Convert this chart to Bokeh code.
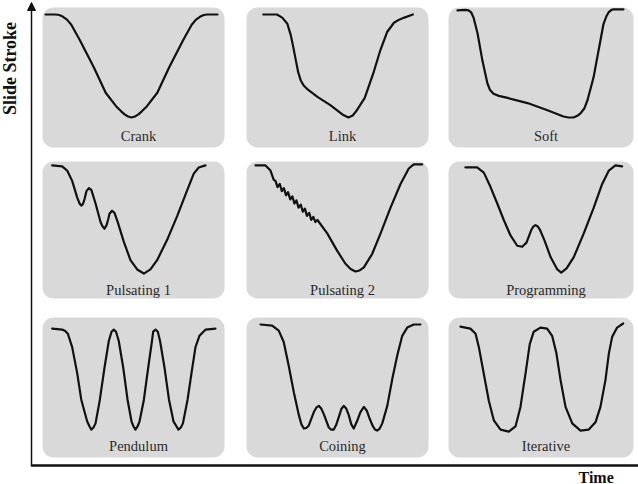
import numpy as np
from bokeh.plotting import figure
from bokeh.models import Range1d, Arrow, NormalHead, Label
from bokeh.embed import file_html
from bokeh.resources import INLINE

# ---- data: normalised time (0-100) and slide stroke (100 = top, 0 = bottom dead centre)
crank_t = [0, 6, 8, 10, 12.5, 15, 20, 28, 35, 41, 44, 46, 48, 50, 52, 54, 56, 59, 65, 72,
           80, 85, 87.5, 90, 92, 94, 100]
crank_s = [100, 100, 99.5, 98, 95, 90, 75, 49, 24, 11, 6, 3, 1, 0, 1, 3, 6, 11, 24, 49,
           75, 90, 95, 98, 99.5, 100, 100]

link_t = [8, 16, 19, 22, 24, 25.5, 27, 28.3, 29.8, 31.5, 34, 39.5, 47, 54, 57.5, 60, 62,
          67, 72, 76, 80, 84, 87, 90, 95]
link_s = [100, 100, 97, 91, 80, 68, 55, 44, 36, 31, 27, 20, 12, 3, 0, 2, 6,
          19, 43, 65, 83, 92, 95, 97, 100]

soft_t = [3.5, 8, 9.9, 11.5, 12.8, 15.1, 18, 20.9, 22.3, 24.4, 27.5, 32.6, 44.2, 55.8, 65.1,
          68, 70.9, 73.5, 75, 77.3, 79.1, 82.6, 85.5, 88.4, 90, 91.3, 93, 94.2, 100]
soft_s = [104, 104.5, 104, 102, 97, 82, 55, 33, 27, 23, 21, 19, 14, 7, 1,
          0, 0, 2, 4, 9, 17, 39, 65, 91, 98, 102, 104.5, 105, 105]

puls1_t = [3.9, 9.7, 12.6, 15.5, 18.4, 19.8, 20.8, 21.8, 22.8, 23.8, 25.3, 26.7, 29.1, 32,
           33.1, 34.3, 35.5, 36.5, 37.2, 38.7, 40.1, 42, 45.5, 49.4, 53.3, 57.2, 61, 64.9,
           70.8, 76.6, 82.4, 86.2, 89.1, 93]
puls1_s = [103, 102, 98, 88, 72, 66, 64, 65.5, 71, 78, 81, 79, 66, 48,
           44, 41.5, 45, 51, 56, 59, 57, 48, 29, 11, 2, -2, 2, 11,
           31, 54, 79, 95, 101, 103]

puls2_t = [3.5, 9.3, 12.2, 14.1, 15.1, 16.3, 17.6, 18.8, 20, 21.2, 22.4, 23.7, 24.9, 26.1,
           27.3, 28.5, 29.8, 31, 32.2, 33.4, 34.7, 35.9, 37.1, 38.3, 39.5, 45.2, 51, 55.8,
           58.8, 61.6, 64, 66.5, 71.3, 76.2, 82, 87.8, 92.6, 95.5, 100.4]
puls2_s = [103, 103, 98, 89, 88, 82, 85, 78, 81, 74, 77, 70, 73, 66,
           69, 62, 65, 58, 61, 54, 57, 50, 53, 48, 50, 37, 20, 7.5,
           2.5, 0, 1, 4, 17, 37, 62, 85, 100, 104, 104]

prog_t = [8.1, 14.9, 18.8, 22.7, 26.6, 30.4, 34.3, 38.2, 41.1, 43.6, 46.3, 47.5, 48.8, 50,
          51.3, 54.1, 57.6, 61.5, 63.8, 66.9, 71.1, 76.9, 82.7, 87.6, 91.5, 95.3, 99.2]
prog_s = [101, 101, 96, 82, 66, 50, 35, 25, 24, 28, 40, 43.5, 45, 44,
          41, 30, 14, 2, -1, 3, 14, 37, 62, 85, 98, 103, 102]

pend_t = [3.9, 9.7, 11.3, 13, 15.5, 18.4, 20.8, 24.2, 25.6, 26.7, 27.9, 29.1, 31.6, 34.3,
          36.8, 38.4, 39.7, 41, 42.6, 45.2, 47.7, 50, 51.2, 52.3, 53.5, 54.7, 57.2, 59.7,
          61.9, 62.6, 64, 65.3, 66.6, 69.2, 71.8, 74.4, 76.2, 77.3, 78.7, 79.9, 82.6, 84.9,
          87.2, 89.5, 93, 98.8]
pend_s = [96, 95, 94, 91, 78, 53, 27, 6, 1, -2, 0, 4, 27, 58,
          84, 93, 95, 93, 84, 58, 27, 6, 1, -2, 1, 6, 27, 58,
          84, 93, 95, 93, 84, 58, 27, 6, 1, -2, 0, 4, 27, 53,
          78, 89, 95, 96]

coin_t = [6.4, 13.2, 17, 19.9, 22.8, 25.8, 28.7, 30.2, 31.6, 33, 34.5, 37.4, 38.9, 40.3,
          41.7, 43.2, 46.1, 47.5, 49, 50.5, 51.9, 53.4, 54.8, 56.2, 57.7, 59.2, 60.6, 62.5,
          64.5, 66.5, 68.3, 70, 71.8, 73, 74.2, 75.7, 77.2, 80.1, 83, 85.9, 88.8, 91.7,
          95.5, 99.4]
coin_s = [100, 99, 94, 83, 60, 34, 12, 3, -1, -0.5, 2, 15, 19.5, 21,
          18.5, 13, 0, -2, -2, 3, 10, 18, 21, 18.5, 12, 3, -1, 6,
          15, 20, 16, 8, 1, -2, -3, -1, 4, 21, 47, 70, 89, 97,
          100, 100]

iter_t = [5.2, 11, 14, 15.9, 18.8, 21.7, 24.6, 28.5, 33.3, 37.2, 40.1, 43, 45.5, 47.8,
          51.7, 55.6, 58.5, 61, 63.4, 66.3, 70.2, 75, 79.8, 83.7, 86.6, 89.5, 91.5, 93.4,
          96.3, 99.8]
iter_s = [98, 96, 91, 78, 52, 26, 7, -2, -4, 1, 20, 52, 81, 93,
          97, 96, 89, 72, 46, 20, 4, -3, -2, 5, 20, 46, 72, 88,
          97, 101]

names = ["Crank", "Link", "Soft", "Pulsating 1", "Pulsating 2", "Programming",
         "Pendulum", "Coining", "Iterative"]
series = [(crank_t, crank_s), (link_t, link_s), (soft_t, soft_s),
          (puls1_t, puls1_s), (puls2_t, puls2_s), (prog_t, prog_s),
          (pend_t, pend_s), (coin_t, coin_s), (iter_t, iter_s)]

# ---- layout (page pixels)
col_left = [42, 246, 448]
col_right = [224, 428, 633]
row_top = [7, 161, 317]
row_bottom = [147, 298, 457]

W, H = 638, 484
p = figure(width=W, height=H, x_range=Range1d(0, W), y_range=Range1d(H, 0),
           output_backend="svg", toolbar_location=None, min_border=0,
           outline_line_color=None, background_fill_color="white")
p.axis.visible = False
p.grid.visible = False

lefts, rights, tops, bottoms = [], [], [], []
for r in range(3):
    for c in range(3):
        lefts.append(col_left[c]); rights.append(col_right[c])
        tops.append(row_top[r]); bottoms.append(row_bottom[r])

p.quad(left=lefts, right=rights, top=tops, bottom=bottoms, fill_color="#d9d9d9",
       line_color=None, border_radius=11)

SERIF = "Liberation Serif"
for i, (name, (t, s)) in enumerate(zip(names, series)):
    L, T, R = lefts[i], tops[i], rights[i]
    xs = L + 3 + np.array(t) * 1.72
    ys = T + 7 + (100 - np.array(s)) * 1.03
    p.line(xs, ys, line_color="#111111", line_width=2.2, line_join="round", line_cap="round")
    p.add_layout(Label(x=(L + R) / 2 + 5, y=T + 128, text=name, text_font=SERIF,
                       text_font_size="14.5px", text_color="#2a2a2a",
                       text_align="center", text_baseline="middle"))

# ---- axes
p.segment(x0=[31], y0=[465], x1=[638], y1=[465], line_color="#111111", line_width=2.5)
p.add_layout(Arrow(end=NormalHead(size=8, fill_color="#111111", line_color="#111111"),
                   x_start=31, y_start=466, x_end=31, y_end=2,
                   line_color="#111111", line_width=1.5))

p.add_layout(Label(x=9, y=68, text="Slide Stroke", angle=np.pi / 2, text_font=SERIF,
                   text_font_style="bold", text_font_size="18px", text_color="#111111",
                   text_align="center", text_baseline="middle"))
p.add_layout(Label(x=578, y=468, text="Time", text_font=SERIF,
                   text_font_style="bold", text_font_size="16px", text_color="#111111",
                   text_align="left", text_baseline="top"))

open("out.html", "w").write(file_html(p, INLINE))
